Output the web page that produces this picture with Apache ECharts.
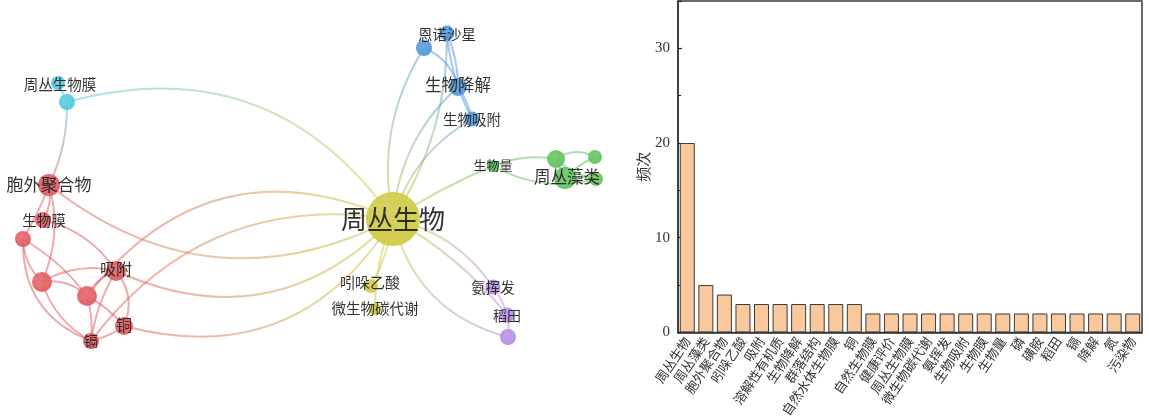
<!DOCTYPE html>
<html>
<head>
<meta charset="utf-8">
<script src="https://cdn.jsdelivr.net/npm/echarts@6/dist/echarts.min.js"></script>
<style>
html, body { margin: 0; padding: 0; background: #ffffff; }
#chart { width: 1149px; height: 420px; }
</style>
</head>
<body>
<div id="chart"></div>
<script>
// ---- keyword frequency (bar chart) ----
const keywords = ['周丛生物', '周丛藻类', '胞外聚合物', '吲哚乙酸', '吸附', '溶解性有机质', '生物降解', '群落结构',
  '自然水体生物膜', '铜', '自然生物膜', '健康评价', '周丛生物膜', '微生物碳代谢', '氨挥发', '生物吸附', '生物膜',
  '生物量', '磷', '磺胺', '稻田', '镉', '降解', '氮', '污染物'];
const frequency = [20, 5, 4, 3, 3, 3, 3, 3, 3, 3, 2, 2, 2, 2, 2, 2, 2, 2, 2, 2, 2, 2, 2, 2, 2];
const yTickValues = [0, 10, 20, 30];

// ---- keyword co-occurrence network ----
const clusterColors = ['#cdc83c', '#e0555b', '#4cc5da', '#4b93d8', '#5bbf57', '#b28ae0'];
const networkNodes = ['周丛生物', '吲哚乙酸', '微生物碳代谢',
  '胞外聚合物', '生物膜', '群落结构', '自然水体生物膜', '溶解性有机质', '吸附', '铜', '镉',
  '周丛生物膜', '自然生物膜',
  '恩诺沙星', '磺胺', '生物降解', '生物吸附',
  '生物量', '周丛藻类', '磷', '氮', '污染物',
  '氨挥发', '稻田', '降解'];
const nodeCluster = [0, 0, 0, 1, 1, 1, 1, 1, 1, 1, 1, 2, 2, 3, 3, 3, 3, 4, 4, 4, 4, 4, 5, 5, 5];
const labelledNodes = ['周丛生物', '吲哚乙酸', '微生物碳代谢', '胞外聚合物', '生物膜', '吸附', '铜', '镉',
  '周丛生物膜', '恩诺沙星', '生物降解', '生物吸附', '生物量', '周丛藻类', '氨挥发', '稻田'];
// co-occurrence links: [source, target]
const coLinks = [
  [0, 1], [0, 2], [0, 17], [0, 14], [0, 13], [0, 15], [0, 16], [0, 22], [0, 23], [0, 24],
  [12, 0], [7, 0], [10, 0], [3, 0], [8, 0], [9, 0],
  [3, 4], [3, 5], [3, 6], [4, 8], [5, 6], [5, 7], [5, 10], [6, 7], [6, 8], [6, 10],
  [7, 8], [7, 9], [7, 10], [8, 9], [8, 10], [9, 10], [12, 3], [11, 12],
  [14, 15], [13, 15], [13, 16], [15, 16],
  [17, 19], [17, 21], [19, 20], [19, 21], [18, 20], [18, 21], [19, 18],
  [22, 23], [23, 24]
];

// ---- network layout (layout space, fitted by the graph view) ----
const nodeX = [393, 371, 375, 49, 43, 23, 42, 87, 116, 124, 91, 58, 67, 447, 424, 458, 472, 493, 565, 556, 595, 596, 493, 507, 508];
const nodeY = [219, 286, 309, 185, 220, 239, 282, 296, 271, 326, 341, 83, 102, 33, 48, 87, 119, 166, 178, 159, 157, 179, 287, 315, 337];
const nodeSize = [54, 14, 12, 22, 16, 16, 20, 20, 20, 18, 16, 14, 16, 15, 16, 18, 15, 12, 22, 18, 14, 14, 15, 15, 16];
const labelFont = [26, 15, 14.5, 17, 14.5, 14, 14, 14, 16, 16, 14, 14.5, 14, 14.5, 14, 16.5, 14.5, 13, 16.5, 14, 14, 14, 14.5, 14, 14];
const labelShift = [[0, 0], [-1, -4], [0, -1], [0, 0], [1, 0], [0, 0], [0, 0], [0, 0], [0, -2], [0, -1], [0, 0],
  [2, 1], [0, 0], [0, 1], [0, 0], [0, -2], [0, 0], [0, -1], [2, -1], [0, 0], [0, 0], [0, 0], [0, 0], [0, 1], [0, 0]];
const linkCurve = [
  0.1, -0.1, 0.05, 0.2, -0.15, 0.2, 0.2, 0.2, 0.1, -0.3,
  0.35, 0.39, 0.3, -0.32, -0.35, -0.37,
  0.2, 0.05, 0.18, 0.2, -0.2, 0.1, -0.35, 0.25, 0.2, -0.2,
  0.2, 0.1, 0.1, 0.3, -0.1, 0.1, 0.12, 0,
  0.25, 0.1, -0.1, 0.1,
  0.15, -0.2, 0.3, -0.15, 0.1, 0.1, 0,
  0.1, 0.1
];

function lighten(hex, k) {
  const n = parseInt(hex.slice(1), 16);
  const r = (n >> 16) & 255, g = (n >> 8) & 255, b = n & 255;
  const f = c => Math.round(c + (255 - c) * k);
  return 'rgb(' + f(r) + ',' + f(g) + ',' + f(b) + ')';
}

function linkGradient(s, t) {
  const dx = nodeX[t] - nodeX[s], dy = nodeY[t] - nodeY[s];
  const m = Math.max(Math.abs(dx), Math.abs(dy)) || 1;
  const ux = dx / m * 0.5, uy = dy / m * 0.5;
  return {
    type: 'linear', x: 0.5 - ux, y: 0.5 - uy, x2: 0.5 + ux, y2: 0.5 + uy,
    colorStops: [
      { offset: 0, color: clusterColors[nodeCluster[s]] },
      { offset: 1, color: clusterColors[nodeCluster[t]] }
    ]
  };
}

const graphNodes = networkNodes.map((name, i) => {
  const base = clusterColors[nodeCluster[i]];
  return {
    name: name,
    x: nodeX[i],
    y: nodeY[i],
    symbolSize: nodeSize[i],
    itemStyle: {
      color: {
        type: 'radial', x: 0.45, y: 0.4, r: 0.65,
        colorStops: [{ offset: 0, color: lighten(base, 0.15) }, { offset: 1, color: base }]
      },
      opacity: 0.92
    },
    label: {
      show: labelledNodes.indexOf(name) >= 0,
      position: 'inside',
      offset: labelShift[i],
      fontSize: labelFont[i],
      color: '#1e1e1e',
      fontFamily: 'Noto Sans CJK SC',
      fontWeight: 'normal'
    }
  };
});

const graphLinks = coLinks.map((l, i) => ({
  source: l[0],
  target: l[1],
  lineStyle: { color: linkGradient(l[0], l[1]), curveness: linkCurve[i] }
}));

const minX = Math.min.apply(null, nodeX), maxX = Math.max.apply(null, nodeX);
const minY = Math.min.apply(null, nodeY), maxY = Math.max.apply(null, nodeY);

const chart = echarts.init(document.getElementById('chart'), null, { renderer: 'canvas' });

chart.setOption({
  animation: false,
  backgroundColor: '#ffffff',
  grid: {
    left: 678, right: 7, top: 1, bottom: 86,
    show: true, borderColor: '#3a3a3a', borderWidth: 1.5, backgroundColor: 'transparent'
  },
  xAxis: {
    type: 'category',
    data: keywords,
    axisLine: { lineStyle: { color: '#333333', width: 1.5 } },
    axisTick: { show: true, inside: true, alignWithLabel: true, length: 4, lineStyle: { color: '#222222', width: 1.5 } },
    axisLabel: {
      interval: 0, rotate: 56, margin: 6,
      fontSize: 13, color: '#333333', fontFamily: 'Noto Sans CJK SC'
    },
    splitLine: { show: false }
  },
  yAxis: {
    type: 'value',
    min: 0, max: 35, interval: 10,
    name: '频次',
    nameLocation: 'middle',
    nameGap: 24,
    nameRotate: 90,
    nameTextStyle: { fontSize: 15, color: '#333333', fontFamily: 'Noto Sans CJK SC' },
    axisLine: { show: true, lineStyle: { color: '#333333', width: 1.5 } },
    axisTick: { show: true, inside: true, length: 4, lineStyle: { color: '#222222', width: 1.2 } },
    minorTick: { show: true, splitNumber: 2, length: 3, lineStyle: { color: '#222222', width: 1 } },
    axisLabel: {
      margin: 8, fontSize: 15, color: '#333333', fontFamily: 'Liberation Serif',
      formatter: v => (yTickValues.indexOf(v) >= 0 ? String(v) : '')
    },
    splitLine: { show: false }
  },
  series: [
    {
      type: 'bar',
      data: frequency,
      barWidth: 15,
      itemStyle: { color: '#f9c89c', borderColor: '#3a3a3a', borderWidth: 1 },
      silent: true
    },
    {
      type: 'graph',
      layout: 'none',
      left: minX, top: minY,
      width: maxX - minX, height: maxY - minY,
      roam: false,
      silent: true,
      z: 1,
      data: graphNodes,
      links: graphLinks,
      lineStyle: { width: 2, opacity: 0.5 },
      emphasis: { disabled: true }
    }
  ]
});
</script>
</body>
</html>
